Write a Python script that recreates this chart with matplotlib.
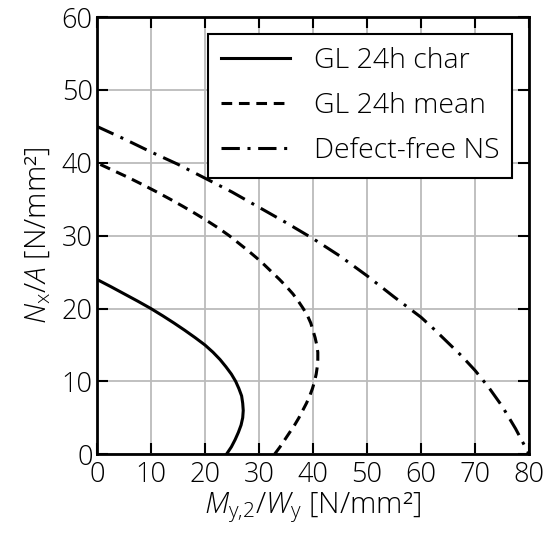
import numpy as np
import matplotlib
matplotlib.use('Agg')
import matplotlib.pyplot as plt

plt.rcParams['font.family'] = ['Open Sans', 'DejaVu Sans']
plt.rcParams['font.weight'] = 'light'
plt.rcParams['axes.labelweight'] = 'light'
plt.rcParams['mathtext.fontset'] = 'custom'
plt.rcParams['mathtext.rm'] = 'Open Sans:light'
plt.rcParams['mathtext.it'] = 'Open Sans:italic:light'

# Kurven (x = M/W, y = N/A)
char_y = [0, 1, 2, 3, 4, 5, 6, 7, 8, 9, 10, 11, 12, 13, 14, 15, 16, 17, 18, 19, 20, 21, 22, 23, 24]
char_x = [24.0, 24.9, 25.6, 26.2, 26.7, 27.0, 27.1, 27.0, 26.8, 26.3, 25.7, 24.9, 23.9, 22.8,
          21.5, 20.0, 18.2, 16.3, 14.3, 12.2, 10.0, 7.6, 5.1, 2.6, 0.0]

mean_y = [0, 1, 2, 3, 4, 5, 6, 7, 8, 9, 10, 11, 12, 13, 14, 15, 16, 17, 18, 19, 20,
          21, 22, 23, 24, 25, 26, 27, 28, 29, 30, 31, 32, 33, 34, 35, 36, 37, 38, 39, 40]
mean_x = [32.9, 33.9, 34.8, 35.7, 36.6, 37.4, 38.1, 38.8, 39.4, 39.9, 40.3, 40.6, 40.8, 40.9,
          40.9, 40.7, 40.4, 40.0, 39.6, 39.0, 38.2, 37.3, 36.3, 35.1, 33.8, 32.4, 31.0, 29.5,
          27.9, 26.2, 24.5, 22.6, 20.5, 18.3, 16.0, 13.6, 11.1, 8.5, 5.8, 2.9, 0.0]

ns_x = [0, 5, 10, 15, 20, 25, 30, 35, 40, 45, 50, 55, 60, 62.5, 65, 67.5, 70, 72.5, 75, 77.5, 80]
ns_y = [45, 43.3, 41.5, 39.8, 37.9, 36.0, 33.9, 31.8, 29.6, 27.2, 24.5, 21.6, 18.8, 17.1,
        15.3, 13.5, 11.5, 9.2, 6.6, 3.5, 0]

fig, ax = plt.subplots(figsize=(5.5, 5.35), dpi=100)
fig.subplots_adjust(left=0.176, right=0.962, bottom=0.151, top=0.968)

ax.plot(char_x, char_y, color='black', lw=2.2, label='GL 24h char')
ax.plot(mean_x, mean_y, color='black', lw=2.2, dashes=(3.5, 2.2), label='GL 24h mean')
ax.plot(ns_x, ns_y, color='black', lw=2.2, dashes=(6, 2.5, 1, 2.5), label='Defect-free NS')

ax.set_xlim(0, 80)
ax.set_ylim(0, 60)
ax.set_xticks(np.arange(0, 81, 10))
ax.set_yticks(np.arange(0, 61, 10))
ax.grid(True, color='#bbbbbb', lw=1.3)
ax.set_axisbelow(True)
ax.tick_params(direction='in', length=8, width=1.5, top=True, right=True,
               labelsize=19.5, pad=3)
ax.tick_params(axis='x', pad=5)
for s in ax.spines.values():
    s.set_linewidth(2)

ax.set_xlabel('$M_\\mathrm{y{,}2}/W_\\mathrm{y}$ [N/mm²]', fontsize=21.5, labelpad=1)
ax.set_ylabel('$N_\\mathrm{x}/A$ [N/mm²]', fontsize=21.5, labelpad=6)

leg = ax.legend(loc='upper right', fontsize=20.5, fancybox=False, framealpha=1,
                edgecolor='black', handlelength=2.4, handletextpad=0.85, borderpad=0.45,
                labelspacing=0.6, borderaxespad=0.6)
leg.get_frame().set_linewidth(1.5)

fig.savefig('out.png', dpi=100)
